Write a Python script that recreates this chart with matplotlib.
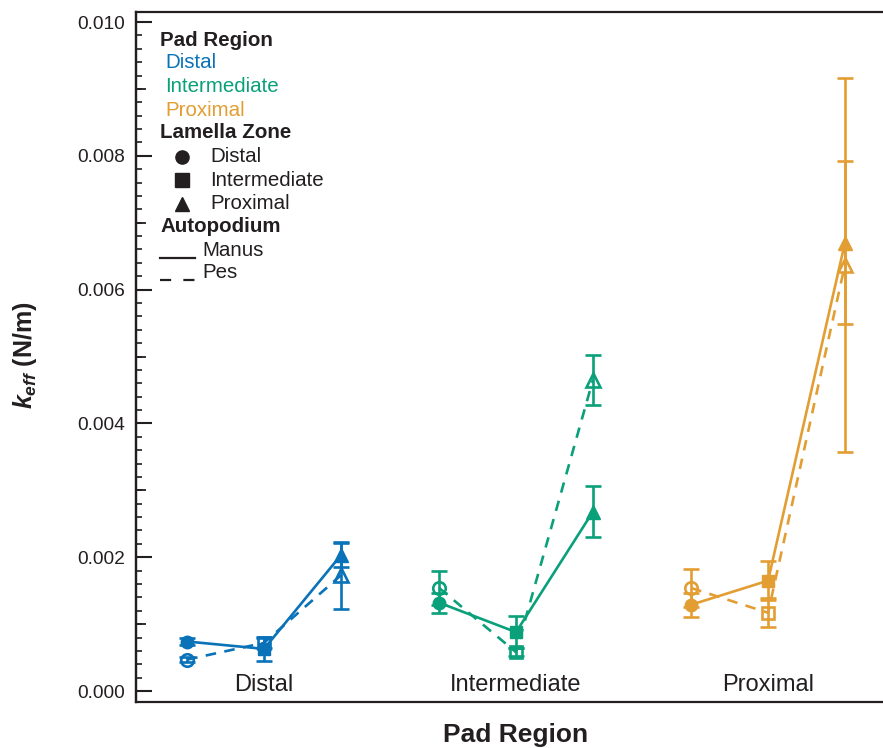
import matplotlib
matplotlib.use("Agg")
import matplotlib.pyplot as plt
from matplotlib.ticker import MultipleLocator, FixedLocator

plt.rcParams['font.family'] = ['Liberation Sans', 'DejaVu Sans']
plt.rcParams['mathtext.fontset'] = 'custom'
plt.rcParams['mathtext.it'] = 'Liberation Sans:bold:italic'
plt.rcParams['mathtext.rm'] = 'Liberation Sans:bold'
plt.rcParams['mathtext.bf'] = 'Liberation Sans:bold'

# ---------------- data ----------------
pad_regions = ["Distal", "Intermediate", "Proximal"]
lamella_zones = ["Distal", "Intermediate", "Proximal"]
colors = ["#0A72B8", "#0AA07A", "#E39E33"]

# Manus (solid, filled markers): rows = pad region, cols = lamella zone
manus_mean = [
    [0.00074, 0.00063, 0.00203],
    [0.00132, 0.00088, 0.00268],
    [0.00129, 0.00165, 0.00670],
]
manus_err = [
    [0.00005, 0.00018, 0.00018],
    [0.00015, 0.00024, 0.00038],
    [0.00018, 0.00029, 0.00122],
]
# Pes (dashed, open markers)
pes_mean = [
    [0.00047, 0.00072, 0.00173],
    [0.00154, 0.00058, 0.00465],
    [0.00154, 0.00117, 0.00637],
]
pes_err = [
    [0.00004, 0.00008, 0.00050],
    [0.00025, 0.00006, 0.00037],
    [0.00028, 0.00022, 0.00280],
]
yticks = [0.000, 0.002, 0.004, 0.006, 0.008, 0.010]
ytick_labels = ["0.000", "0.002", "0.004", "0.006", "0.008", "0.010"]

markers = ["o", "s", "^"]
zone_offset = 0.305
text_color = "#231F20"

fig = plt.figure(figsize=(8.83, 7.48), dpi=100)
ax = fig.add_axes([136 / 883, 46 / 748, 747 / 883, 690 / 748])

for g, col in enumerate(colors):
    xs = [g + (z - 1) * zone_offset for z in range(3)]
    ax.plot(xs, manus_mean[g], color=col, lw=1.9, ls='-', zorder=2)
    ax.plot(xs, pes_mean[g], color=col, lw=1.9, ls=(0, (4, 3.2)), zorder=2)
    for z in range(3):
        ax.errorbar(xs[z], pes_mean[g][z], yerr=pes_err[g][z], fmt=markers[z],
                    color=col, mfc='none', mec=col, mew=1.9, ms=9 if z != 2 else 10,
                    elinewidth=1.9, capsize=5.5, capthick=1.9, zorder=3)
        ax.errorbar(xs[z], manus_mean[g][z], yerr=manus_err[g][z], fmt=markers[z],
                    color=col, mfc=col, mec=col, ms=9 if z != 2 else 10,
                    elinewidth=1.9, capsize=5.5, capthick=1.9, zorder=4)
    ax.text(g, 0.0246, pad_regions[g], transform=ax.get_xaxis_transform(),
            ha='center', va='center', fontsize=17, color=text_color)

ax.set_xlim(-0.508, 2.456)
ax.set_ylim(-0.000164, 0.01015)
ax.set_xticks([])
ax.yaxis.set_major_locator(FixedLocator(yticks))
ax.set_yticklabels(ytick_labels)
ax.yaxis.set_minor_locator(MultipleLocator(0.0002))
ax.tick_params(axis='y', which='major', direction='in', length=11.5, width=1.5,
               labelsize=13.8, pad=8, colors=text_color)
ax.tick_params(axis='y', which='minor', direction='in', length=4.5, width=1.2,
               colors=text_color)
for s in ['left', 'top', 'bottom']:
    ax.spines[s].set_linewidth(1.6)
    ax.spines[s].set_color(text_color)
ax.spines['right'].set_visible(False)

sec = ax.secondary_yaxis('left')
sec.yaxis.set_major_locator(FixedLocator([0.001, 0.003, 0.005, 0.007, 0.009]))
sec.tick_params(axis='y', direction='in', length=7.5, width=1.3,
                labelleft=False, colors=text_color)
sec.spines['left'].set_linewidth(1.6)
sec.spines['left'].set_color(text_color)

ax.set_xlabel("Pad Region", fontsize=19, fontweight='bold', color=text_color)
ax.xaxis.set_label_coords((516 - 136) / 747, -(735 - 702) / 690)
ax.xaxis.label.set_verticalalignment('center')
fig.text(25 / 883, 1 - 355 / 748, r"$k_{eff}$ (N/m)", rotation=90,
         ha='center', va='center', fontsize=18, fontweight='bold',
         color=text_color)

# ---------------- legend (key) ----------------
def fx(px):
    return (px - 136) / 747

def fy(py):
    return (702 - py) / 690

lfs = 14.8
ax.text(fx(160), fy(40), "Pad Region", transform=ax.transAxes, fontsize=lfs,
        fontweight='bold', va='center', ha='left', color=text_color)
for i, (name, col) in enumerate(zip(pad_regions, colors)):
    ax.text(fx(165), fy(63 + 23.5 * i), name, transform=ax.transAxes,
            fontsize=lfs, va='center', ha='left', color=col)
ax.text(fx(160), fy(133), "Lamella Zone", transform=ax.transAxes, fontsize=lfs,
        fontweight='bold', va='center', ha='left', color=text_color)
for i, (name, m) in enumerate(zip(lamella_zones, markers)):
    yy = fy(157 + 23.3 * i)
    ax.plot([fx(182)], [yy], marker=m, color=text_color, ms=9.5 if i != 2 else 10.5,
            transform=ax.transAxes, clip_on=False, ls='none')
    ax.text(fx(210), yy, name, transform=ax.transAxes, fontsize=lfs,
            va='center', ha='left', color=text_color)
ax.text(fx(160), fy(227), "Autopodium", transform=ax.transAxes, fontsize=lfs,
        fontweight='bold', va='center', ha='left', color=text_color)
ax.plot([fx(160), fx(195)], [fy(258), fy(258)], color=text_color, lw=1.6,
        transform=ax.transAxes, clip_on=False)
ax.text(fx(202), fy(250), "Manus", transform=ax.transAxes, fontsize=lfs,
        va='center', ha='left', color=text_color)
ax.plot([fx(160), fx(195)], [fy(280), fy(280)], color=text_color, lw=1.6,
        ls=(0, (5, 5.5)), transform=ax.transAxes, clip_on=False)
ax.text(fx(202), fy(272), "Pes", transform=ax.transAxes, fontsize=lfs,
        va='center', ha='left', color=text_color)

fig.savefig("out.png", dpi=100)
